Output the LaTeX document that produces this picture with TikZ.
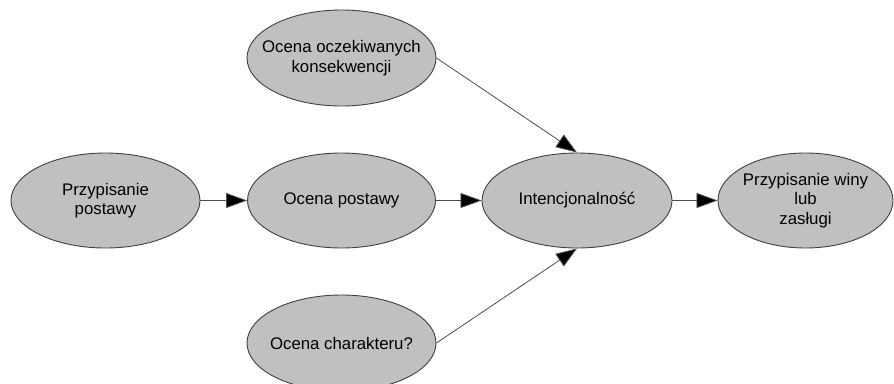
\documentclass[tikz,border=0pt]{standalone}
\usepackage{fontspec}
\setmainfont{Liberation Sans}
\usetikzlibrary{shapes.geometric,arrows.meta}
\definecolor{elfill}{HTML}{C0C0C0}
\definecolor{elline}{HTML}{404040}
\tikzset{
  el/.style={ellipse, draw=elline, fill=elfill, line width=0.9pt, inner sep=0pt},
  txt/.style={font=\fontsize{16.8}{19.5}\selectfont, align=center, text=black},
  conn/.style={draw=black!70, line width=0.8pt, -{Triangle[length=21pt,width=15pt,fill=black]}}
}
\begin{document}
\begin{tikzpicture}[x=1pt,y=-1pt]
\useasboundingbox (0,0) rectangle (894,383);
\clip (0,0) rectangle (894,383);
\node[el, minimum width=189pt, minimum height=95pt,
  label={[txt,name=t1]center:Przypisanie\\postawy}] (a) at (105.5,200.5) {};
\node[el, minimum width=188pt, minimum height=95pt,
  label={[txt,name=t2]center:Ocena postawy}] (b) at (341.5,200.5) {};
\node[el, minimum width=190pt, minimum height=95pt,
  label={[txt,name=t3]center:Intencjonalność}] (c) at (577,200.5) {};
\node[el, minimum width=175pt, minimum height=95pt,
  label={[txt,name=t4]center:Przypisanie winy\\lub\\zasługi}] (d) at (805.5,200.5) {};
\node[el, minimum width=189pt, minimum height=96pt,
  label={[txt,name=t5]center:Ocena oczekiwanych\\konsekwencji}] (e) at (341.5,58) {};
\node[el, minimum width=189pt, minimum height=96pt,
  label={[txt,name=t6]center:Ocena charakteru?}] (f) at (341.5,343) {};
\draw[conn] (a.east) -- (b.west);
\draw[conn] (b.east) -- (c.west);
\draw[conn] (c.east) -- (d.west);
\draw[conn] (e.east) -- (c.north);
\draw[conn] (f.east) -- (c.south);
\end{tikzpicture}
\end{document}
